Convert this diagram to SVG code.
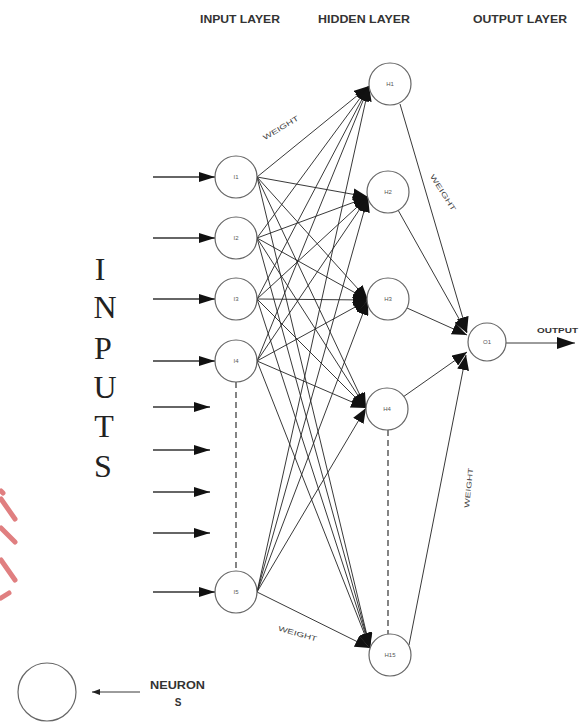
<svg xmlns="http://www.w3.org/2000/svg" width="580" height="722" viewBox="0 0 580 722">
<defs>
<style>
.node{fill:#fff;stroke:#666;stroke-width:1.2}
.nl{font-family:"Liberation Sans",Arial,sans-serif;font-size:6px;fill:#555;text-anchor:middle}
.hdr{font-family:"Liberation Sans",Arial,sans-serif;font-size:10px;font-weight:bold;fill:#333}
.wt{font-family:"Liberation Sans",Arial,sans-serif;font-size:7px;fill:#444;text-anchor:middle}
.big{font-family:"Liberation Serif","Times New Roman",serif;font-size:32px;fill:#222;text-anchor:middle}
.c{stroke:#222;stroke-width:0.9;fill:none}
.ca{stroke:#222;stroke-width:0.9;fill:none;marker-end:url(#ah)}
.in{stroke:#333;stroke-width:1.3;fill:none;marker-end:url(#ih)}
.dash{stroke:#333;stroke-width:1.2;stroke-dasharray:6,4;fill:none}
.wm{stroke:#e07f80;stroke-width:5;fill:none;stroke-linecap:round}
</style>
<marker id="ah" viewBox="0 0 15 12" refX="15" refY="6" markerWidth="15" markerHeight="12" markerUnits="userSpaceOnUse" orient="auto"><path d="M0,0 L15,6 L0,12 z" fill="#111"/></marker>
<marker id="ih" viewBox="0 0 16 10" refX="16" refY="5" markerWidth="16" markerHeight="10" markerUnits="userSpaceOnUse" orient="auto"><path d="M0,0 L16,5 L0,10 z" fill="#111"/></marker>
<marker id="oh" viewBox="0 0 18 12" refX="18" refY="6" markerWidth="18" markerHeight="12" markerUnits="userSpaceOnUse" orient="auto"><path d="M0,0 L18,6 L0,12 z" fill="#111"/></marker>
<marker id="lh" viewBox="0 0 8 6" refX="8" refY="3" markerWidth="8" markerHeight="6" markerUnits="userSpaceOnUse" orient="auto"><path d="M0,0 L8,3 L0,6 z" fill="#222"/></marker>
</defs>
<rect width="580" height="722" fill="#fff"/>

<g id="watermark">
<path class="wm" d="M1,491 L3,493"/>
<path class="wm" d="M1,499 L15,519"/>
<path class="wm" d="M1,528 L15,542"/>
<path class="wm" d="M1,560 L15,580"/>
<path class="wm" d="M1,598 L9,593"/>
</g>

<g id="headers">
<text class="hdr" x="200" y="23" textLength="80" lengthAdjust="spacingAndGlyphs">INPUT LAYER</text>
<text class="hdr" x="318" y="23" textLength="92" lengthAdjust="spacingAndGlyphs">HIDDEN LAYER</text>
<text class="hdr" x="473" y="23" textLength="94" lengthAdjust="spacingAndGlyphs">OUTPUT LAYER</text>
</g>

<g id="inputs-label">
<text class="big" x="100" y="280">I</text>
<text class="big" x="105" y="318">N</text>
<text class="big" x="103" y="359">P</text>
<text class="big" x="105" y="398">U</text>
<text class="big" x="104" y="437">T</text>
<text class="big" x="103" y="477">S</text>
</g>

<g id="connectors">
<path class="in" d="M153,177 L215,177"/>
<path class="in" d="M153,238 L215,238"/>
<path class="in" d="M153,299 L215,299"/>
<path class="in" d="M153,361 L215,361"/>
<path class="in" d="M153,407 L210,407"/>
<path class="in" d="M153,450 L210,450"/>
<path class="in" d="M153,492 L210,492"/>
<path class="in" d="M153,533 L210,533"/>
<path class="in" d="M153,592 L215,592"/>
<path class="dash" d="M236,382 L236,571"/>
<path class="dash" d="M388,430 L388,634"/>
<path class="ca" d="M257,177 L369,86"/>
<path class="ca" d="M257,177 L368,197"/>
<path class="ca" d="M257,177 L368,300"/>
<path class="ca" d="M257,177 L366,408"/>
<path class="ca" d="M257,177 L370,648"/>
<path class="ca" d="M257,238 L369,86"/>
<path class="ca" d="M257,238 L368,197"/>
<path class="ca" d="M257,238 L368,300"/>
<path class="ca" d="M257,238 L366,408"/>
<path class="ca" d="M257,238 L370,648"/>
<path class="ca" d="M257,299 L369,86"/>
<path class="ca" d="M257,299 L368,197"/>
<path class="ca" d="M257,299 L368,300"/>
<path class="ca" d="M257,299 L366,408"/>
<path class="ca" d="M257,299 L370,648"/>
<path class="ca" d="M257,361 L369,86"/>
<path class="ca" d="M257,361 L368,197"/>
<path class="ca" d="M257,361 L368,300"/>
<path class="ca" d="M257,361 L366,408"/>
<path class="ca" d="M257,361 L370,648"/>
<path class="ca" d="M257,592 L369,86"/>
<path class="ca" d="M257,592 L368,197"/>
<path class="ca" d="M257,592 L368,300"/>
<path class="ca" d="M257,592 L366,408"/>
<path class="ca" d="M257,592 L370,648"/>
<path class="ca" d="M400,104 L467,332"/>
<path class="ca" d="M398,210 L467,333"/>
<path class="ca" d="M407,308 L467,335"/>
<path class="ca" d="M403,397 L467,352"/>
<path class="ca" d="M409,645 L466,355"/>
<path class="c" d="M506,343 L575,343" style="marker-end:url(#oh)"/>
<path class="c" d="M140,692 L92,692" style="marker-end:url(#lh)"/>
</g>

<g id="weights">
<text class="wt" transform="translate(282,130) rotate(-31)" textLength="40" lengthAdjust="spacingAndGlyphs">WEIGHT</text>
<text class="wt" transform="translate(441,194) rotate(58)" textLength="42" lengthAdjust="spacingAndGlyphs">WEIGHT</text>
<text class="wt" transform="translate(471,488) rotate(-84)" textLength="40" lengthAdjust="spacingAndGlyphs">WEIGHT</text>
<text class="wt" transform="translate(297,636) rotate(16)" textLength="40" lengthAdjust="spacingAndGlyphs">WEIGHT</text>
</g>

<g id="I1"><circle class="node" cx="236" cy="177" r="21"/><text class="nl" x="236" y="179">I1</text></g>
<g id="I2"><circle class="node" cx="236" cy="238" r="21"/><text class="nl" x="236" y="240">I2</text></g>
<g id="I3"><circle class="node" cx="236" cy="299" r="21"/><text class="nl" x="236" y="301">I3</text></g>
<g id="I4"><circle class="node" cx="236" cy="361" r="21"/><text class="nl" x="236" y="363">I4</text></g>
<g id="I5"><circle class="node" cx="236" cy="592" r="21"/><text class="nl" x="236" y="594">I5</text></g>

<g id="H1"><circle class="node" cx="390" cy="84" r="21"/><text class="nl" x="390" y="86">H1</text></g>
<g id="H2"><circle class="node" cx="388" cy="192" r="21"/><text class="nl" x="388" y="194">H2</text></g>
<g id="H3"><circle class="node" cx="388" cy="299" r="21"/><text class="nl" x="388" y="301">H3</text></g>
<g id="H4"><circle class="node" cx="387" cy="409" r="21"/><text class="nl" x="387" y="411">H4</text></g>
<g id="H15"><circle class="node" cx="390" cy="655" r="21"/><text class="nl" x="390" y="657">H15</text></g>

<g id="O1"><circle class="node" cx="487" cy="342" r="19"/><text class="nl" x="487" y="344">O1</text></g>

<g id="output-label"><text class="hdr" x="537" y="333" style="font-size:8px" textLength="41" lengthAdjust="spacingAndGlyphs">OUTPUT</text></g>

<g id="legend">
<circle class="node" cx="47" cy="692" r="29"/>
<text class="hdr" x="150" y="689" style="font-size:10px" textLength="55" lengthAdjust="spacingAndGlyphs">NEURON</text>
<text class="hdr" x="178" y="706" style="font-size:10px;text-anchor:middle">S</text>
</g>
</svg>
